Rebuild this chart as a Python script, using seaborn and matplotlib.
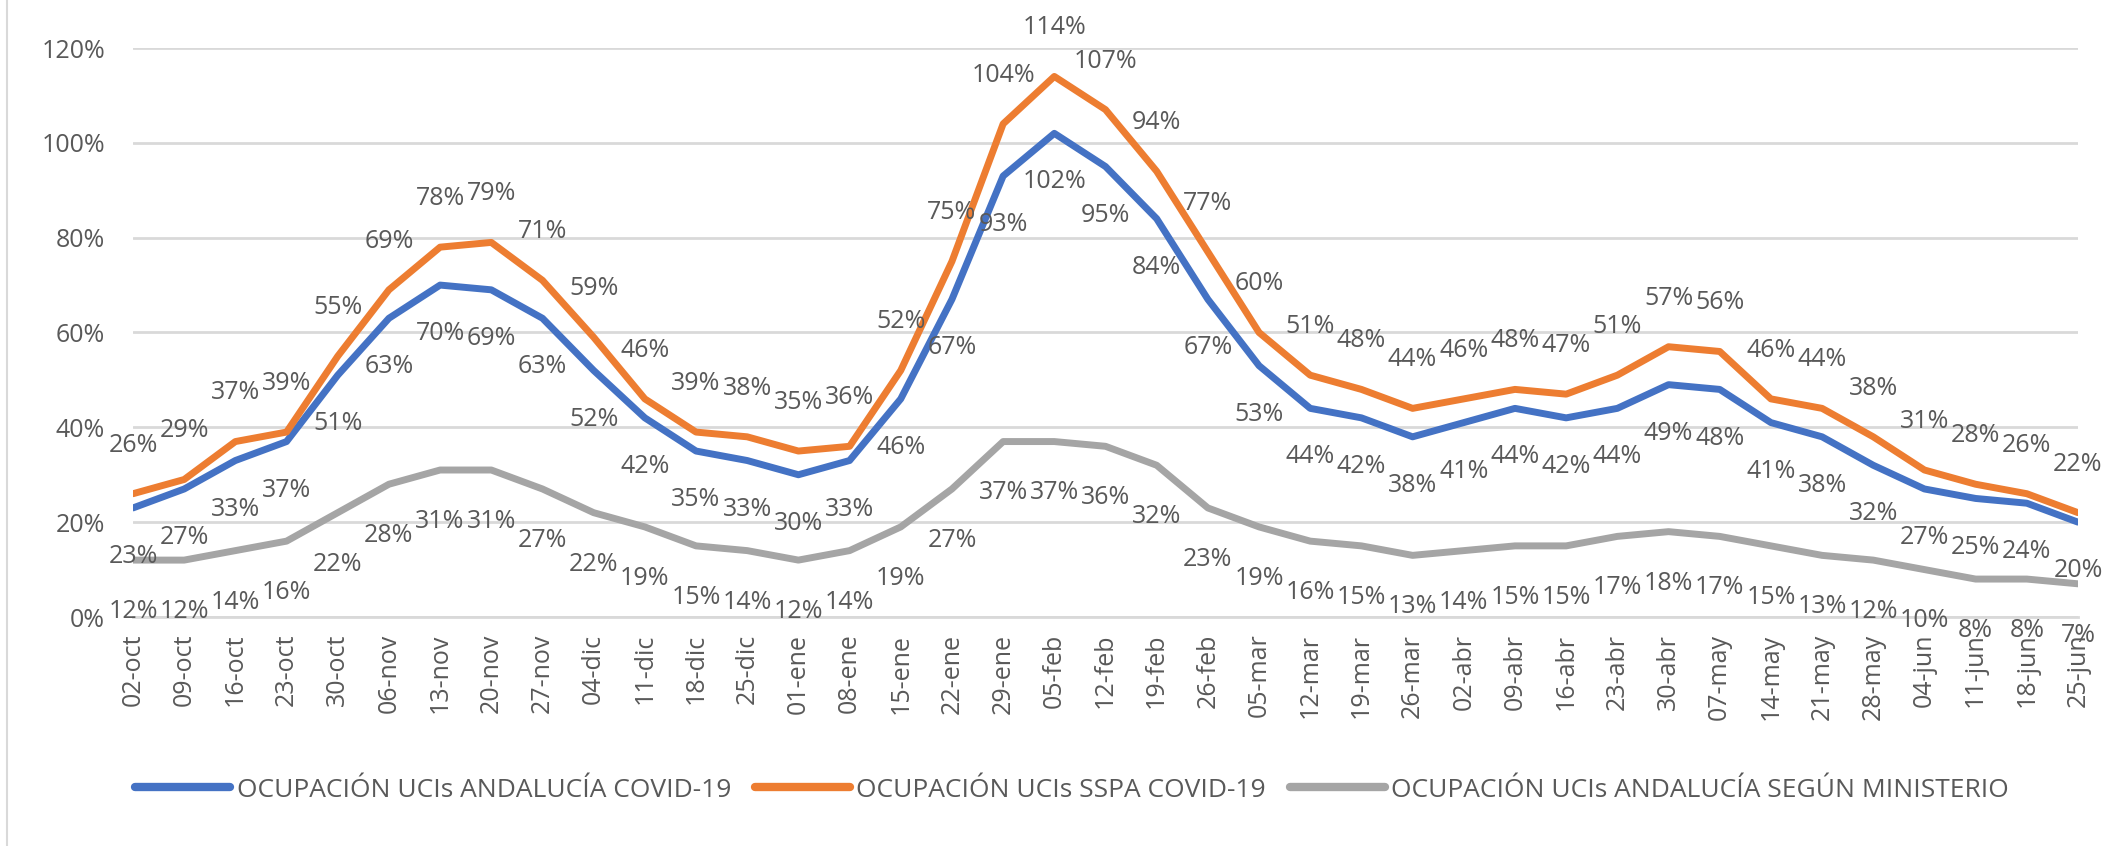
import matplotlib
matplotlib.use("Agg")
import matplotlib.pyplot as plt
import seaborn as sns
import pandas as pd
from matplotlib.lines import Line2D

fechas = ["02-oct", "09-oct", "16-oct", "23-oct", "30-oct", "06-nov", "13-nov", "20-nov",
          "27-nov", "04-dic", "11-dic", "18-dic", "25-dic", "01-ene", "08-ene", "15-ene",
          "22-ene", "29-ene", "05-feb", "12-feb", "19-feb", "26-feb", "05-mar", "12-mar",
          "19-mar", "26-mar", "02-abr", "09-abr", "16-abr", "23-abr", "30-abr", "07-may",
          "14-may", "21-may", "28-may", "04-jun", "11-jun", "18-jun", "25-jun"]

andalucia = [23, 27, 33, 37, 51, 63, 70, 69, 63, 52, 42, 35, 33, 30, 33, 46, 67, 93, 102, 95,
             84, 67, 53, 44, 42, 38, 41, 44, 42, 44, 49, 48, 41, 38, 32, 27, 25, 24, 20]
sspa = [26, 29, 37, 39, 55, 69, 78, 79, 71, 59, 46, 39, 38, 35, 36, 52, 75, 104, 114, 107,
        94, 77, 60, 51, 48, 44, 46, 48, 47, 51, 57, 56, 46, 44, 38, 31, 28, 26, 22]
ministerio = [12, 12, 14, 16, 22, 28, 31, 31, 27, 22, 19, 15, 14, 12, 14, 19, 27, 37, 37, 36,
              32, 23, 19, 16, 15, 13, 14, 15, 15, 17, 18, 17, 15, 13, 12, 10, 8, 8, 7]

series_names = ["OCUPACIÓN UCIs ANDALUCÍA COVID-19",
                "OCUPACIÓN UCIs SSPA COVID-19",
                "OCUPACIÓN UCIs ANDALUCÍA SEGÚN MINISTERIO"]
series_values = [andalucia, sspa, ministerio]
colors = ["#4472C4", "#ED7D31", "#A5A5A5"]
y_ticks = [0, 20, 40, 60, 80, 100, 120]

sns.set_style("white")
plt.rcParams["font.family"] = ["Open Sans", "DejaVu Sans"]
TXT = "#595959"

rows = []
for name, vals in zip(series_names, series_values):
    for i, v in enumerate(vals):
        rows.append({"pos": i, "val": v / 100.0, "serie": name})
df = pd.DataFrame(rows)

fig = plt.figure(figsize=(21.02, 8.46), dpi=100)
ax = fig.add_axes([133 / 2102, 1 - 617 / 846, (2078 - 133) / 2102, (617 - 48) / 846])

sns.lineplot(data=df, x="pos", y="val", hue="serie", hue_order=series_names,
             palette=colors, linewidth=5, ax=ax, legend=True, zorder=3,
             solid_capstyle="round", solid_joinstyle="round")

ax.set_xlim(0, len(fechas) - 1)
ax.set_ylim(0, 1.2)
ax.set_yticks([t / 100 for t in y_ticks])
ax.set_yticklabels([f"{t}%" for t in y_ticks])
ax.set_xticks(range(len(fechas)))
ax.set_xticklabels(fechas, rotation=90)
ax.set_xlabel("")
ax.set_ylabel("")

ax.grid(axis="y", color="#d9d9d9", linewidth=2)
ax.grid(axis="x", visible=False)
ax.set_axisbelow(True)
for s in ["left", "right", "top"]:
    ax.spines[s].set_visible(False)
ax.spines["bottom"].set_color("#d9d9d9")
ax.spines["bottom"].set_linewidth(2)
ax.tick_params(axis="y", length=0, pad=20, labelsize=18, labelcolor=TXT)
ax.tick_params(axis="x", length=8, width=1.5, color="#d9d9d9", pad=4,
               labelsize=18, labelcolor=TXT)

# data labels
offsets = [-35, 35, -37]
for vals, off in zip(series_values, offsets):
    for i, v in enumerate(vals):
        ax.annotate(f"{v}%", xy=(i, v / 100), xytext=(0, off), textcoords="offset points",
                    ha="center", va="center", fontsize=18, color=TXT, clip_on=False,
                    zorder=5)

leg = ax.legend(loc="center", bbox_to_anchor=(1072 / 2102, 1 - 790 / 846),
                bbox_transform=fig.transFigure, ncol=3, frameon=False,
                fontsize=19, handlelength=3.6, handletextpad=0.25, columnspacing=0.9)
for h in leg.get_lines():
    h.set_linewidth(6)
    h.set_solid_capstyle("round")
for t in leg.get_texts():
    t.set_color(TXT)

fig.add_artist(Line2D([7 / 2102, 7 / 2102], [0, 1], transform=fig.transFigure,
                      color="#d9d9d9", linewidth=1.5))

fig.savefig("out.png", dpi=100, facecolor="white")
